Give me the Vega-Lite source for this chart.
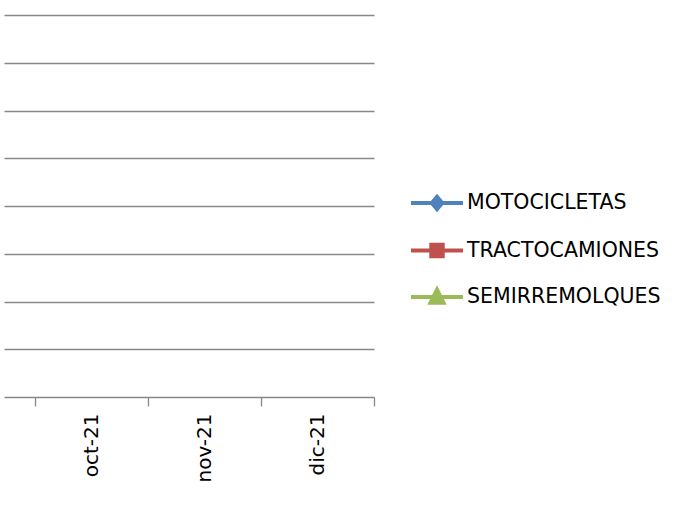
{
  "$schema": "https://vega.github.io/schema/vega-lite/v6.json",
  "width": 370,
  "height": 382,
  "autosize": {"type": "none"},
  "padding": {"left": 4, "top": 15, "right": 312, "bottom": 109},
  "background": "white",
  "config": {"view": {"stroke": null}, "font": "DejaVu Sans"},
  "data": {
    "values": [
      {"month": "oct-21", "series": "MOTOCICLETAS", "value": null},
      {"month": "nov-21", "series": "MOTOCICLETAS", "value": null},
      {"month": "dic-21", "series": "MOTOCICLETAS", "value": null},
      {"month": "oct-21", "series": "TRACTOCAMIONES", "value": null},
      {"month": "nov-21", "series": "TRACTOCAMIONES", "value": null},
      {"month": "dic-21", "series": "TRACTOCAMIONES", "value": null},
      {"month": "oct-21", "series": "SEMIRREMOLQUES", "value": null},
      {"month": "nov-21", "series": "SEMIRREMOLQUES", "value": null},
      {"month": "dic-21", "series": "SEMIRREMOLQUES", "value": null}
    ]
  },
  "mark": {"type": "point", "filled": true, "opacity": 1, "strokeWidth": 4},
  "encoding": {
    "x": {
      "field": "month",
      "type": "nominal",
      "scale": {"type": "band", "domain": ["oct-21", "nov-21", "dic-21"], "paddingInner": 0, "paddingOuter": 0.137, "align": 1},
      "axis": {
        "title": null,
        "domain": false,
        "tickBand": "extent",
        "ticks": true,
        "tickSize": 9,
        "tickColor": "#888888",
        "tickWidth": 1.3,
        "labelAngle": -90,
        "labelFont": "DejaVu Sans",
        "labelFontSize": 20,
        "labelColor": "#000000",
        "labelPadding": 7,
        "grid": false
      }
    },
    "y": {
      "field": "value",
      "type": "quantitative",
      "scale": {"domain": [0, 8], "nice": false, "zero": true},
      "axis": {
        "title": null,
        "values": [0, 1, 2, 3, 4, 5, 6, 7, 8],
        "labels": false,
        "ticks": false,
        "domain": false,
        "grid": true,
        "gridColor": "#888888",
        "gridWidth": 1.3
      }
    },
    "color": {
      "field": "series",
      "type": "nominal",
      "scale": {
        "domain": ["MOTOCICLETAS", "TRACTOCAMIONES", "SEMIRREMOLQUES"],
        "range": ["#4F81BD", "#C0504D", "#9BBB59"]
      },
      "legend": {
        "orient": "none",
        "legendX": 405,
        "legendY": 160,
        "title": null,
        "padding": 0,
        "labelFont": "DejaVu Sans",
        "labelFontSize": 20.5,
        "labelColor": "#000000",
        "labelLimit": 400,
        "symbolSize": 2704,
        "symbolStrokeWidth": 4,
        "symbolOpacity": 1,
        "rowPadding": 4.5,
        "labelOffset": 2,
        "encode": {
          "symbols": {
            "enter": {
              "stroke": {"scale": "color", "field": "value"},
              "strokeWidth": {"value": 4}
            },
            "update": {
              "fill": {"scale": "color", "field": "value"},
              "stroke": {"scale": "color", "field": "value"},
              "strokeWidth": {"value": 4},
              "opacity": {"value": 1}
            }
          }
        }
      }
    },
    "shape": {
      "field": "series",
      "type": "nominal",
      "scale": {
        "domain": ["MOTOCICLETAS", "TRACTOCAMIONES", "SEMIRREMOLQUES"],
        "range": [
          "M-1,0H1M0,-0.24L0.2,0L0,0.24L-0.2,0Z",
          "M-1,0H1M-0.22,-0.22H0.22V0.22H-0.22Z",
          "M-1,0H1M0,-0.28L0.25,0.22H-0.25Z"
        ]
      }
    }
  }
}
